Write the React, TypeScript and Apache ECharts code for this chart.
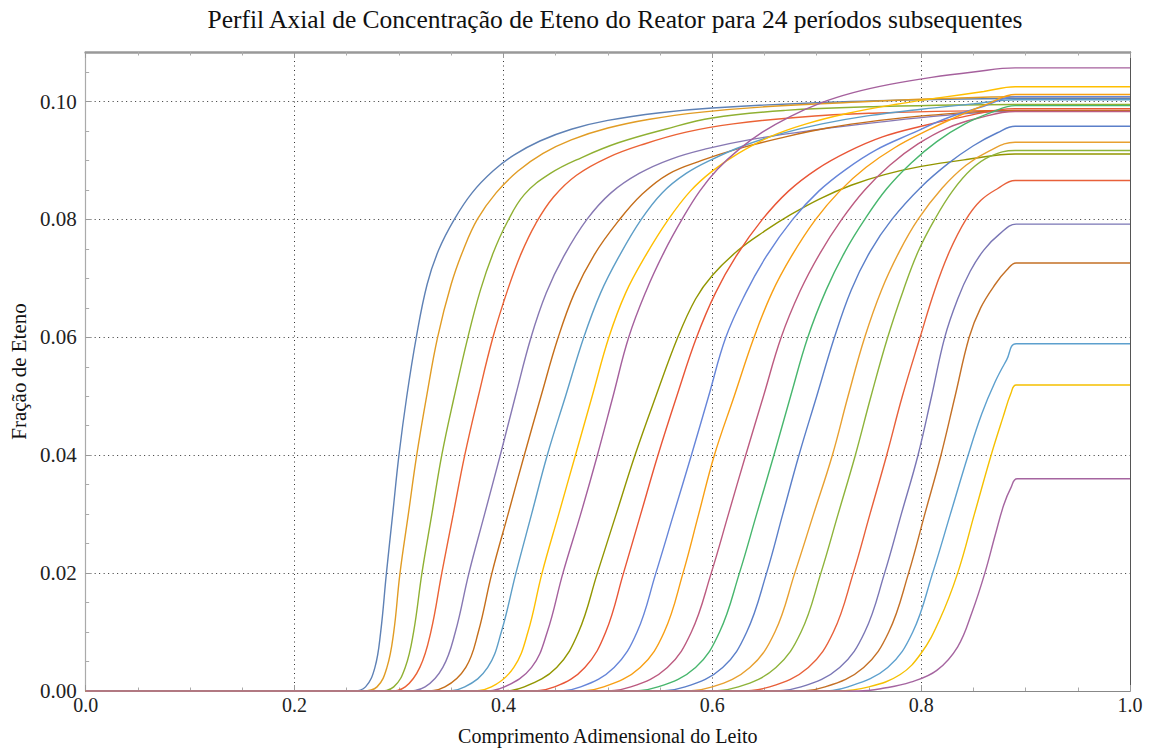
import React, { useEffect, useRef } from "react";
import * as echarts from "echarts";

const TITLE = "Perfil Axial de Concentração de Eteno do Reator para 24 períodos subsequentes";
const X_NAME = "Comprimento Adimensional do Leito";
const Y_NAME = "Fração de Eteno";

// [comprimento adimensional, fração de eteno]
const periodo01 = [[0, 0], [0.256, 0], [0.268, 0.0007], [0.277, 0.004], [0.2825, 0.01], [0.288, 0.02], [0.294, 0.03], [0.3, 0.04], [0.3075, 0.05], [0.3166, 0.06], [0.327, 0.069], [0.338, 0.0748], [0.353, 0.08], [0.37, 0.0845], [0.39, 0.0882], [0.41, 0.0909], [0.435, 0.0933], [0.465, 0.0953], [0.5, 0.0968], [0.55, 0.0981], [0.6, 0.0989], [0.7, 0.0998], [0.8, 0.1003], [0.89, 0.1005], [1, 0.1005]];
const periodo02 = [[0, 0], [0.265, 0], [0.279, 0.0007], [0.2885, 0.004], [0.295, 0.01], [0.301, 0.02], [0.309, 0.03], [0.317, 0.04], [0.3265, 0.05], [0.337, 0.06], [0.35, 0.069], [0.362, 0.075], [0.375, 0.08], [0.393, 0.0845], [0.414, 0.0882], [0.438, 0.0912], [0.465, 0.0935], [0.5, 0.0955], [0.54, 0.097], [0.59, 0.0982], [0.65, 0.0991], [0.75, 0.1], [0.82, 0.1005], [0.89, 0.1008], [1, 0.1008]];
const periodo03 = [[0, 0], [0.28, 0], [0.295, 0.0007], [0.306, 0.004], [0.314, 0.01], [0.322, 0.02], [0.3315, 0.03], [0.341, 0.04], [0.353, 0.05], [0.366, 0.06], [0.378, 0.068], [0.39, 0.0742], [0.403, 0.0793], [0.42, 0.0842], [0.445, 0.0878], [0.475, 0.0905], [0.51, 0.093], [0.555, 0.0953], [0.6, 0.0972], [0.67, 0.0985], [0.75, 0.0991], [0.89, 0.0995], [1, 0.0995]];
const periodo04 = [[0, 0], [0.29, 0], [0.306, 0.0007], [0.32, 0.004], [0.3305, 0.01], [0.341, 0.02], [0.352, 0.03], [0.363, 0.04], [0.376, 0.05], [0.39, 0.06], [0.404, 0.068], [0.417, 0.0742], [0.431, 0.0793], [0.448, 0.0838], [0.47, 0.0875], [0.5, 0.0905], [0.535, 0.0928], [0.575, 0.0948], [0.62, 0.0962], [0.68, 0.0973], [0.75, 0.098], [0.89, 0.0985], [1, 0.0985]];
const periodo05 = [[0, 0], [0.305, 0], [0.325, 0.0007], [0.342, 0.004], [0.354, 0.01], [0.367, 0.02], [0.382, 0.03], [0.397, 0.04], [0.4115, 0.05], [0.4265, 0.06], [0.441, 0.0675], [0.458, 0.0738], [0.48, 0.08], [0.503, 0.0845], [0.53, 0.0878], [0.56, 0.0902], [0.595, 0.092], [0.635, 0.0935], [0.7, 0.0952], [0.76, 0.0965], [0.82, 0.0976], [0.89, 0.0984], [1, 0.0984]];
const periodo06 = [[0, 0], [0.322, 0], [0.344, 0.0007], [0.364, 0.004], [0.376, 0.01], [0.389, 0.02], [0.4045, 0.03], [0.42, 0.04], [0.436, 0.05], [0.4525, 0.06], [0.468, 0.0675], [0.487, 0.074], [0.51, 0.0797], [0.533, 0.0843], [0.558, 0.0877], [0.59, 0.09], [0.625, 0.092], [0.665, 0.0938], [0.71, 0.0955], [0.76, 0.0968], [0.81, 0.0977], [0.89, 0.0985], [1, 0.0985]];
const periodo07 = [[0, 0], [0.34, 0], [0.363, 0.0007], [0.385, 0.004], [0.398, 0.01], [0.412, 0.02], [0.427, 0.03], [0.442, 0.04], [0.4595, 0.05], [0.477, 0.06], [0.493, 0.0675], [0.511, 0.0738], [0.532, 0.08], [0.552, 0.0845], [0.575, 0.0878], [0.6, 0.0902], [0.63, 0.0925], [0.665, 0.0945], [0.705, 0.0962], [0.75, 0.0976], [0.8, 0.0987], [0.85, 0.0996], [0.89, 0.1003], [1, 0.1003]];
const periodo08 = [[0, 0], [0.365, 0], [0.3885, 0.0007], [0.41, 0.004], [0.4235, 0.01], [0.437, 0.02], [0.453, 0.03], [0.469, 0.04], [0.485, 0.05], [0.501, 0.06], [0.517, 0.0675], [0.536, 0.0738], [0.558, 0.08], [0.579, 0.0848], [0.6, 0.0882], [0.625, 0.0912], [0.655, 0.094], [0.69, 0.0962], [0.73, 0.098], [0.775, 0.0995], [0.82, 0.1007], [0.86, 0.1017], [0.89, 0.1025], [1, 0.1025]];
const periodo09 = [[0, 0], [0.378, 0], [0.401, 0.0007], [0.427, 0.004], [0.442, 0.01], [0.457, 0.02], [0.474, 0.03], [0.49, 0.04], [0.505, 0.05], [0.52, 0.06], [0.537, 0.068], [0.554, 0.0745], [0.571, 0.08], [0.588, 0.0848], [0.605, 0.0885], [0.625, 0.0918], [0.648, 0.0948], [0.675, 0.0975], [0.703, 0.0997], [0.735, 0.1015], [0.77, 0.1029], [0.81, 0.1041], [0.85, 0.105], [0.89, 0.1057], [1, 0.1057]];
const periodo10 = [[0, 0], [0.395, 0], [0.42, 0.0007], [0.451, 0.004], [0.472, 0.01], [0.49, 0.02], [0.508, 0.03], [0.526, 0.04], [0.546, 0.05], [0.567, 0.06], [0.584, 0.0665], [0.6, 0.0705], [0.625, 0.0748], [0.65, 0.078], [0.675, 0.0808], [0.703, 0.0835], [0.733, 0.0858], [0.765, 0.0876], [0.8, 0.089], [0.845, 0.0902], [0.89, 0.0911], [1, 0.0911]];
const periodo11 = [[0, 0], [0.42, 0], [0.449, 0.0007], [0.478, 0.004], [0.498, 0.01], [0.515, 0.02], [0.5315, 0.03], [0.548, 0.04], [0.566, 0.05], [0.585, 0.06], [0.603, 0.0675], [0.623, 0.0738], [0.648, 0.08], [0.673, 0.0848], [0.7, 0.0885], [0.73, 0.0915], [0.763, 0.094], [0.8, 0.0958], [0.84, 0.0974], [0.89, 0.0988], [1, 0.0988]];
const periodo12 = [[0, 0], [0.445, 0], [0.474, 0.0007], [0.506, 0.004], [0.528, 0.01], [0.546, 0.02], [0.563, 0.03], [0.58, 0.04], [0.5965, 0.05], [0.613, 0.06], [0.632, 0.0675], [0.652, 0.0738], [0.677, 0.08], [0.702, 0.0848], [0.728, 0.0885], [0.757, 0.0918], [0.79, 0.0945], [0.825, 0.0972], [0.86, 0.0992], [0.89, 0.1008], [1, 0.1008]];
const periodo13 = [[0, 0], [0.465, 0], [0.496, 0.0007], [0.531, 0.004], [0.554, 0.01], [0.572, 0.02], [0.587, 0.03], [0.602, 0.04], [0.621, 0.05], [0.64, 0.06], [0.657, 0.0675], [0.676, 0.0738], [0.699, 0.08], [0.722, 0.0848], [0.747, 0.0888], [0.775, 0.0922], [0.805, 0.095], [0.835, 0.0975], [0.865, 0.0997], [0.89, 0.1012], [1, 0.1012]];
const periodo14 = [[0, 0], [0.49, 0], [0.522, 0.0007], [0.557, 0.004], [0.58, 0.01], [0.599, 0.02], [0.6155, 0.03], [0.632, 0.04], [0.649, 0.05], [0.666, 0.06], [0.684, 0.0678], [0.703, 0.0742], [0.724, 0.08], [0.746, 0.085], [0.77, 0.0892], [0.797, 0.0928], [0.825, 0.0955], [0.855, 0.0972], [0.89, 0.0983], [1, 0.0983]];
const periodo15 = [[0, 0], [0.515, 0], [0.548, 0.0007], [0.584, 0.004], [0.607, 0.01], [0.626, 0.02], [0.6425, 0.03], [0.659, 0.04], [0.675, 0.05], [0.6915, 0.06], [0.709, 0.068], [0.727, 0.0745], [0.746, 0.08], [0.767, 0.0852], [0.79, 0.0895], [0.815, 0.0932], [0.842, 0.0962], [0.868, 0.0982], [0.89, 0.0993], [1, 0.0993]];
const periodo16 = [[0, 0], [0.54, 0], [0.574, 0.0007], [0.61, 0.004], [0.633, 0.01], [0.652, 0.02], [0.6675, 0.03], [0.683, 0.04], [0.7, 0.05], [0.717, 0.06], [0.733, 0.068], [0.751, 0.0745], [0.772, 0.08], [0.8, 0.0855], [0.826, 0.0895], [0.85, 0.0925], [0.873, 0.0947], [0.89, 0.0958], [1, 0.0958]];
const periodo17 = [[0, 0], [0.565, 0], [0.6, 0.0007], [0.636, 0.004], [0.66, 0.01], [0.679, 0.02], [0.697, 0.03], [0.715, 0.04], [0.73, 0.05], [0.746, 0.06], [0.762, 0.068], [0.779, 0.0745], [0.797, 0.08], [0.82, 0.0853], [0.843, 0.0892], [0.865, 0.0916], [0.89, 0.0931], [1, 0.0931]];
const periodo18 = [[0, 0], [0.59, 0], [0.625, 0.0007], [0.661, 0.004], [0.685, 0.01], [0.704, 0.02], [0.7205, 0.03], [0.737, 0.04], [0.752, 0.05], [0.768, 0.06], [0.783, 0.068], [0.797, 0.0745], [0.813, 0.08], [0.83, 0.0848], [0.848, 0.0885], [0.866, 0.0907], [0.89, 0.0917], [1, 0.0917]];
const periodo19 = [[0, 0], [0.62, 0], [0.655, 0.0007], [0.692, 0.004], [0.716, 0.01], [0.735, 0.02], [0.751, 0.03], [0.767, 0.04], [0.782, 0.05], [0.799, 0.06], [0.813, 0.068], [0.827, 0.0745], [0.843, 0.08], [0.857, 0.0832], [0.873, 0.0852], [0.89, 0.0866], [1, 0.0866]];
const periodo20 = [[0, 0], [0.65, 0], [0.685, 0.0007], [0.722, 0.004], [0.746, 0.01], [0.765, 0.02], [0.781, 0.03], [0.797, 0.04], [0.81, 0.05], [0.8226, 0.06], [0.835, 0.0665], [0.847, 0.0712], [0.86, 0.0748], [0.875, 0.0775], [0.891, 0.0792], [1, 0.0792]];
const periodo21 = [[0, 0], [0.675, 0], [0.708, 0.0007], [0.745, 0.004], [0.769, 0.01], [0.788, 0.02], [0.8035, 0.03], [0.819, 0.04], [0.8325, 0.05], [0.846, 0.06], [0.857, 0.065], [0.871, 0.069], [0.882, 0.0714], [0.891, 0.0726], [1, 0.0726]];
const periodo22 = [[0, 0], [0.7, 0], [0.73, 0.0007], [0.768, 0.004], [0.792, 0.01], [0.811, 0.02], [0.828, 0.03], [0.845, 0.04], [0.858, 0.047], [0.871, 0.0525], [0.882, 0.0562], [0.891, 0.0589], [1, 0.0589]];
const periodo23 = [[0, 0], [0.72, 0], [0.75, 0.0007], [0.78, 0.0028], [0.8, 0.0064], [0.8175, 0.012], [0.835, 0.02], [0.851, 0.03], [0.867, 0.04], [0.8785, 0.0465], [0.886, 0.0505], [0.891, 0.0519], [1, 0.0519]];
const periodo24 = [[0, 0], [0.74, 0], [0.765, 0.0005], [0.79, 0.0015], [0.815, 0.0035], [0.835, 0.0075], [0.849, 0.0135], [0.861, 0.02], [0.871, 0.0265], [0.879, 0.0315], [0.886, 0.0345], [0.892, 0.036], [1, 0.036]];

const periodos = [
  periodo01, periodo02, periodo03, periodo04, periodo05, periodo06,
  periodo07, periodo08, periodo09, periodo10, periodo11, periodo12,
  periodo13, periodo14, periodo15, periodo16, periodo17, periodo18,
  periodo19, periodo20, periodo21, periodo22, periodo23, periodo24,
];

const curveColors = [
  "#5E81B5", "#E19C24", "#8FB032", "#EB6235", "#8778B3", "#C56E1A",
  "#5D9EC7", "#FFBF00", "#A5609D", "#929600", "#E95536", "#6685D9",
  "#F89F13", "#BC5B80", "#47B66D", "#5B7FC9", "#E8A030", "#8DB33A",
  "#E8603A", "#7A76B5", "#C47026", "#5DA0CE", "#F5C000", "#A565A0",
];

const X_MIN = 0;
const X_MAX = 1;
const X_STEP = 0.2;
const Y_MIN = 0;
const Y_MAX = 0.1084;
const Y_STEP = 0.02;

const SERIF = "'Liberation Serif', 'Times New Roman', serif";

export default function App() {
  const ref = useRef<HTMLDivElement>(null);

  useEffect(() => {
    if (!ref.current) return;
    const chart = echarts.init(ref.current, null, { renderer: "svg" });

    const dotted = { color: "#333", width: 1, type: [1, 3.5] as any };
    const frameTick = { show: true, inside: true, length: 6, lineStyle: { color: "#999", width: 1 } };
    const frameMinor = { show: true, splitNumber: 4, length: 3.5, lineStyle: { color: "#aaa", width: 1 } };

    const option: any = {
      animation: false,
      backgroundColor: "#ffffff",
      graphic: [
        {
          type: "text",
          x: 615,
          y: 19,
          style: {
            text: TITLE,
            font: `25.5px ${SERIF}`,
            fill: "#111",
            textAlign: "center",
            textVerticalAlign: "middle",
          },
        },
      ],
      grid: { left: 78, right: 23, top: 52, bottom: 60, containLabel: false },
      xAxis: [
        {
          type: "value",
          min: X_MIN,
          max: X_MAX,
          interval: X_STEP,
          position: "bottom",
          name: X_NAME,
          nameLocation: "middle",
          nameGap: 35,
          nameTextStyle: { fontFamily: SERIF, fontSize: 20, color: "#111" },
          axisLine: { show: true, onZero: false, lineStyle: { color: "#888", width: 1 } },
          axisTick: frameTick,
          minorTick: frameMinor,
          axisLabel: {
            margin: 4,
            fontFamily: SERIF,
            fontSize: 20,
            color: "#222",
            formatter: (v: number) => v.toFixed(1),
          },
          splitLine: { show: true, showMinLine: false, showMaxLine: false, lineStyle: dotted },
        },
        {
          type: "value",
          min: X_MIN,
          max: X_MAX,
          interval: X_STEP,
          position: "top",
          axisLine: { show: true, onZero: false, lineStyle: { color: "#999", width: 2.5 } },
          axisTick: frameTick,
          minorTick: frameMinor,
          axisLabel: { show: false },
          splitLine: { show: false },
        },
      ],
      yAxis: [
        {
          type: "value",
          min: Y_MIN,
          max: Y_MAX,
          interval: Y_STEP,
          position: "left",
          name: Y_NAME,
          nameLocation: "middle",
          nameGap: 50,
          nameRotate: 90,
          nameTextStyle: { fontFamily: SERIF, fontSize: 21, color: "#111" },
          axisLine: { show: true, onZero: false, lineStyle: { color: "#aaa", width: 1.2 } },
          axisTick: frameTick,
          minorTick: frameMinor,
          axisLabel: {
            margin: 9,
            fontFamily: SERIF,
            fontSize: 21,
            color: "#222",
            showMaxLabel: false,
            formatter: (v: number) => v.toFixed(2),
          },
          splitLine: { show: true, showMinLine: false, showMaxLine: false, lineStyle: dotted },
        },
        {
          type: "value",
          min: Y_MIN,
          max: Y_MAX,
          interval: Y_STEP,
          position: "right",
          axisLine: { show: true, onZero: false, lineStyle: { color: "#555", width: 1 } },
          axisTick: { show: false },
          axisLabel: { show: false },
          splitLine: { show: false },
        },
      ],
      series: periodos.map((pts, i) => ({
        name: `Período ${i + 1}`,
        type: "line",
        xAxisIndex: 0,
        yAxisIndex: 0,
        data: pts,
        showSymbol: false,
        smooth: 0.4,
        clip: false,
        silent: true,
        lineStyle: { color: curveColors[i], width: 1.4 },
        itemStyle: { color: curveColors[i] },
        emphasis: { disabled: true },
      })),
    };

    chart.setOption(option);
    return () => chart.dispose();
  }, []);

  return (
    <div
      ref={ref}
      style={{ position: "fixed", left: 0, top: 0, width: 1153, height: 751, background: "#fff" }}
    />
  );
}
